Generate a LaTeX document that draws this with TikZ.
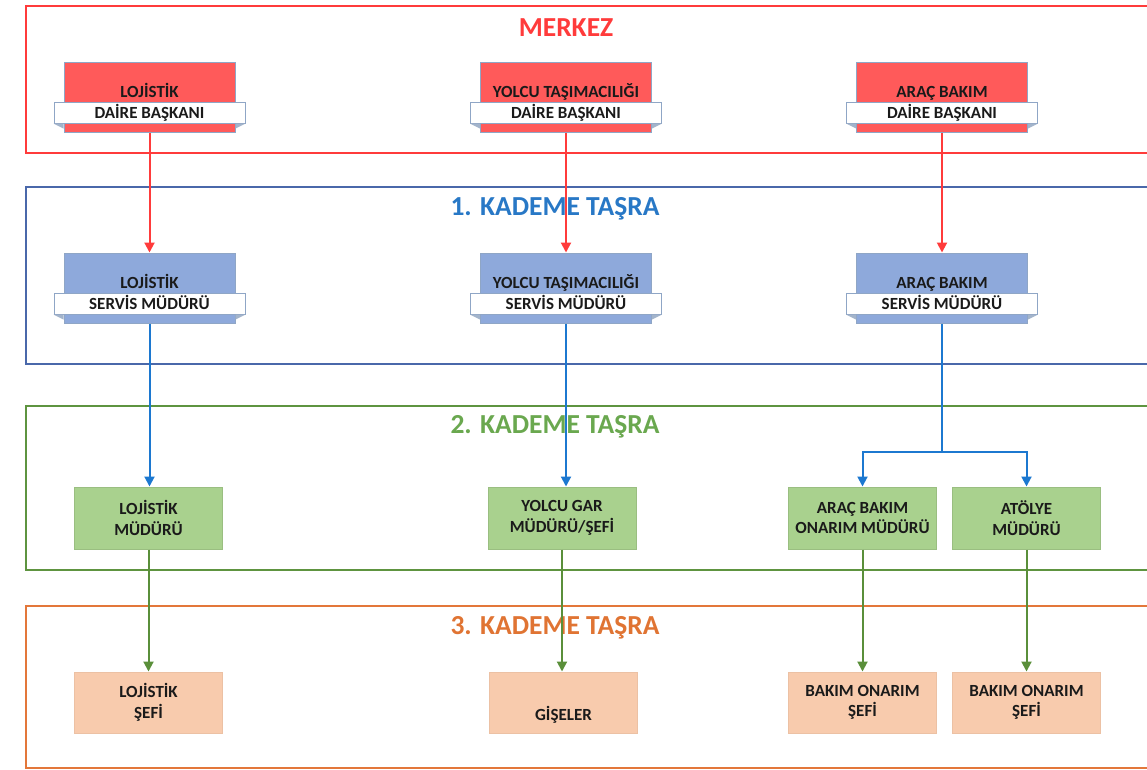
\documentclass[tikz,border=0pt]{standalone}
\usepackage{fontspec}
\setmainfont{Carlito}
\usetikzlibrary{arrows.meta,calc}

\definecolor{txt}{HTML}{1A1A1A}
\definecolor{redline}{HTML}{FF3B3B}
\definecolor{redfill}{HTML}{FF5A5A}
\definecolor{bluefr}{HTML}{4A68AA}
\definecolor{bluefill}{HTML}{8EA9DB}
\definecolor{bluearr}{HTML}{1C78D0}
\definecolor{bluetitle}{HTML}{2878C6}
\definecolor{greenfr}{HTML}{5E9440}
\definecolor{greenfill}{HTML}{A9D18E}
\definecolor{greenarr}{HTML}{5A8F3A}
\definecolor{greentitle}{HTML}{6AA84F}
\definecolor{orangefr}{HTML}{E3773A}
\definecolor{orangefill}{HTML}{F8CBAD}
\definecolor{orangetitle}{HTML}{E07433}
\definecolor{edge}{HTML}{8FA6C6}
\definecolor{fold}{HTML}{A3B4CB}

\tikzset{
  frame/.style={line width=2pt},
  title/.style={font=\bfseries\fontsize{27.5}{32}\selectfont, inner sep=0pt},
  lbl/.style={font=\bfseries\fontsize{17}{20}\selectfont, text=txt, inner sep=0pt, anchor=base},
  backbox/.style={draw=edge, line width=1pt, minimum width=171pt, minimum height=70pt, inner sep=0pt},
  banner/.style={draw=edge, fill=white, line width=1pt, minimum width=191pt, minimum height=21pt,
    inner sep=0pt, text height=11pt, text depth=0pt, text=txt,
    font=\bfseries\fontsize{17}{20}\selectfont},
  unit/.style={line width=1pt, minimum width=148pt, minimum height=62pt, inner sep=0pt,
    align=center, text=txt, font=\bfseries\fontsize{17}{20.5}\selectfont},
  gbox/.style={unit, draw=greenfill!85!black!60!greenfill, fill=greenfill},
  obox/.style={unit, draw=orangefill!90!black!50!orangefill, fill=orangefill, minimum height=61pt},
  conn/.style={line width=2pt, -{Triangle[width=10pt,length=10pt]}},
  rarrow/.style={conn, draw=redline},
  barrow/.style={conn, draw=bluearr},
  garrow/.style={conn, draw=greenarr},
}

\begin{document}
\begin{tikzpicture}[x=1pt,y=-1pt]
\clip (0,0) rectangle (1147,769);
\fill[white] (0,0) rectangle (1147,769);

% level frames
\draw[frame, draw=redline]   (26,6)   rectangle (1170,153);
\draw[frame, draw=bluefr]    (26,187) rectangle (1170,364);
\draw[frame, draw=greenfr]   (26,406) rectangle (1170,570);
\draw[frame, draw=orangefr]  (26,606) rectangle (1170,768);

% level titles
\node[title, text=redline]     (t0) at (566,28)  {MERKEZ};
\node[title, text=bluetitle]   (t1) at (555,209) {1. KADEME TAŞRA};
\node[title, text=greentitle]  (t2) at (555,427) {2. KADEME TAŞRA};
\node[title, text=orangetitle] (t3) at (555,628) {3. KADEME TAŞRA};

% centre: department heads
\node[backbox, fill=redfill] (m1) at (149.5,97) {};
\node[backbox, fill=redfill] (m2) at (566,97) {};
\node[backbox, fill=redfill] (m3) at (942,97) {};
\node[lbl] (m1t) at (149.5,97) {LOJİSTİK};
\node[lbl] (m2t) at (566,97) {YOLCU TAŞIMACILIĞI};
\node[lbl] (m3t) at (942,97) {ARAÇ BAKIM};
\node[banner] (m1b) at (149.5,112.5) {DAİRE BAŞKANI};
\node[banner] (m2b) at (566,112.5) {DAİRE BAŞKANI};
\node[banner] (m3b) at (942,112.5) {DAİRE BAŞKANI};

% level 1: service managers
\node[backbox, fill=bluefill] (s1) at (149.5,288) {};
\node[backbox, fill=bluefill] (s2) at (566,288) {};
\node[backbox, fill=bluefill] (s3) at (942,288) {};
\node[lbl] (s1t) at (149.5,288) {LOJİSTİK};
\node[lbl] (s2t) at (566,288) {YOLCU TAŞIMACILIĞI};
\node[lbl] (s3t) at (942,288) {ARAÇ BAKIM};
\node[banner] (s1b) at (149.5,303.5) {SERVİS MÜDÜRÜ};
\node[banner] (s2b) at (566,303.5) {SERVİS MÜDÜRÜ};
\node[banner] (s3b) at (942,303.5) {SERVİS MÜDÜRÜ};

% ribbon folds at the banner ends
\foreach \b in {m1b,m2b,m3b,s1b,s2b,s3b}{
  \fill[fold] (\b.south west) -- ++(10,5) -- ++(0,-5) -- cycle;
  \fill[fold] (\b.south east) -- ++(-10,5) -- ++(0,-5) -- cycle;
}

% level 2: directorates
\node[gbox] (g1) at (148.5,518) {LOJİSTİK\\MÜDÜRÜ};
\node[gbox] (g2) at (562,518)   {YOLCU GAR\\MÜDÜRÜ/ŞEFİ};
\node[gbox] (g3) at (862.5,518) {ARAÇ BAKIM\\ONARIM MÜDÜRÜ};
\node[gbox] (g4) at (1026.5,518){ATÖLYE\\MÜDÜRÜ};

% level 3: units
\node[obox] (o1) at (148.5,702.5) {LOJİSTİK\\ŞEFİ};
\node[obox] (o2) at (563.5,702.5) {};
\node[lbl]  (o2t) at ($(o2.center)+(0,17.5)$) {GİŞELER};
\node[obox] (o3) at (862.5,702.5) {BAKIM ONARIM\\ŞEFİ};
\node[obox] (o4) at (1026.5,702.5){BAKIM ONARIM\\ŞEFİ};

% connectors
\draw[rarrow] (m1.south) -- (s1.north);
\draw[rarrow] (m2.south) -- (s2.north);
\draw[rarrow] (m3.south) -- (s3.north);

\draw[barrow] (s1.south) -- (s1.south |- g1.north);
\draw[barrow] (s2.south) -- (s2.south |- g2.north);
\draw[line width=2pt, bluearr] (s3.south) -- ++(0,128) coordinate (split);
\draw[barrow] (split) -| (g3.north);
\draw[barrow] (split) -| (g4.north);

\draw[garrow] (g1.south) -- (o1.north);
\draw[garrow] (g2.south) -- (g2.south |- o2.north);
\draw[garrow] (g3.south) -- (o3.north);
\draw[garrow] (g4.south) -- (o4.north);
\end{tikzpicture}
\end{document}
